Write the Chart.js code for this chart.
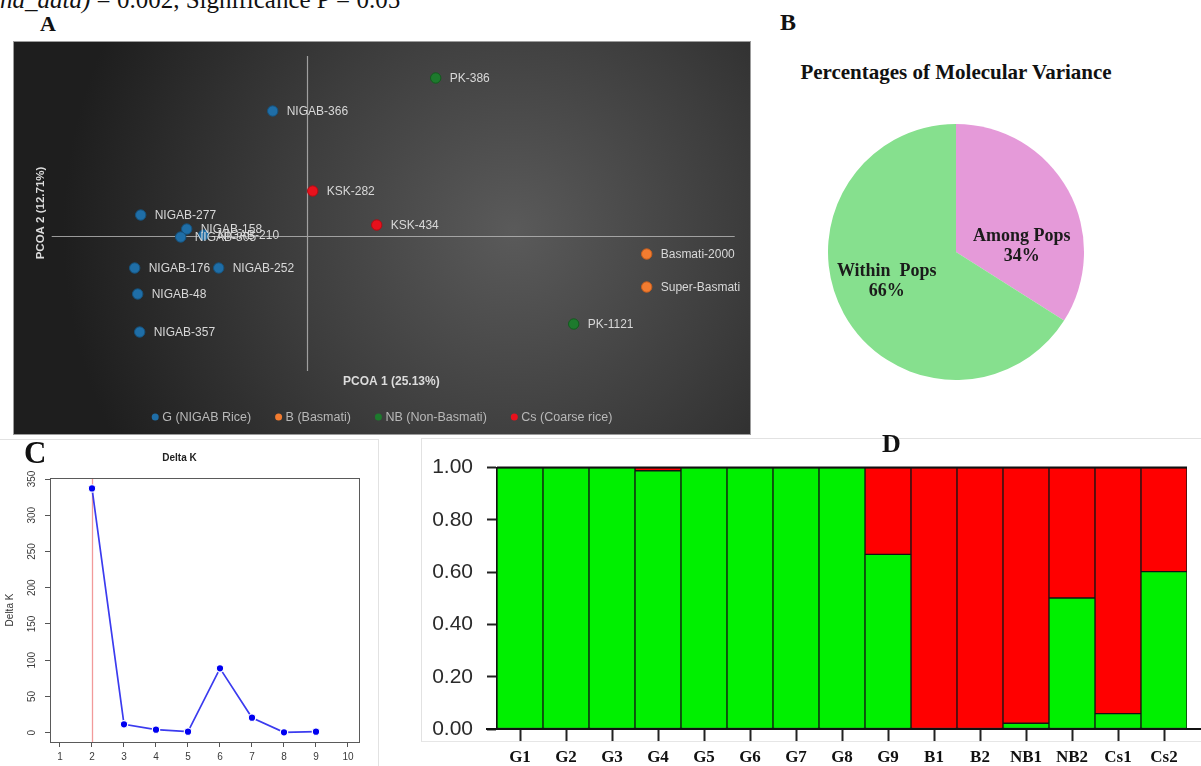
<!DOCTYPE html>
<html>
<head>
<meta charset="utf-8">
<title>Genetic structure of rice accessions</title>
<script src="https://cdn.jsdelivr.net/npm/chart.js@4.4.1/dist/chart.umd.min.js"></script>
<style>
  html, body { margin: 0; padding: 0; background: #fff; }
  body { width: 1201px; height: 766px; position: relative; overflow: hidden;
         font-family: "Liberation Serif", "Times New Roman", serif; }
  .abs { position: absolute; }
  .letter { font-family: "Liberation Serif", "Times New Roman", serif; font-weight: bold;
            color: #111; line-height: 1; z-index: 5; }
  #note { left: 0; top: -13px; font-size: 25px; line-height: 1; white-space: nowrap; color: #111; }
  #letterA { left: 40px; top: 13px; font-size: 22px; }
  #letterB { left: 780px; top: 10px; font-size: 24px; }
  #letterC { left: 24px; top: 437px; font-size: 31px; }
  #letterD { left: 882px; top: 431px; font-size: 26px; }
  #titleB { left: 756px; top: 62px; width: 400px; text-align: center; font-size: 21px;
            font-weight: bold; line-height: 1; color: #111; }
  #wrapA { left: 13px; top: 41px; width: 738px; height: 394px; }
  #wrapB { left: 828px; top: 124px; width: 256px; height: 256px; }
  #frameC { left: -2px; top: 439px; width: 380px; height: 340px; border-top: 1px solid #e2e2e2; border-right: 1px solid #e2e2e2; }
  #wrapC { left: 0; top: 441px; width: 378px; height: 325px; }
  #frameD { left: 421px; top: 438px; width: 800px; height: 302px; border-top: 1px solid #e2e2e2; border-left: 1px solid #e2e2e2; border-bottom: 1px solid #e6e6e6; }
  #wrapD { left: 420px; top: 441px; width: 781px; height: 325px; }
</style>
</head>
<body>
<div id="note" class="abs"><i>nd_data)</i> = 0.002, Significance P = 0.05</div>
<div id="letterA" class="abs letter">A</div>
<div id="letterB" class="abs letter">B</div>
<div id="letterC" class="abs letter">C</div>
<div id="letterD" class="abs letter">D</div>
<div id="titleB" class="abs">Percentages of Molecular Variance</div>

<div id="wrapA" class="abs"><canvas id="pcoa"></canvas></div>
<div id="wrapB" class="abs"><canvas id="amova"></canvas></div>
<div id="frameC" class="abs"></div>
<div id="wrapC" class="abs"><canvas id="deltak"></canvas></div>
<div id="frameD" class="abs"></div>
<div id="wrapD" class="abs"><canvas id="structure"></canvas></div>

<script>
// ---------- A: principal coordinates (PCoA scores) ----------
const groupNames  = ['G (NIGAB Rice)', 'B (Basmati)', 'NB (Non-Basmati)', 'Cs (Coarse rice)'];
const groupColors = ['#1f6ea7', '#f27c30', '#1d7a2d', '#e8111c'];
const groupEdges  = ['#15527d', '#c85e1c', '#135a1e', '#b00c14'];

const nigabIds = ['NIGAB-366', 'NIGAB-277', 'NIGAB-158', 'NIGAB-305', 'NIGAB-210', 'NIGAB-176', 'NIGAB-252', 'NIGAB-48', 'NIGAB-357'];
const nigabPC1 = [-0.34, -1.66, -1.20, -1.26, -1.03, -1.72, -0.88, -1.69, -1.67];
const nigabPC2 = [ 1.25,  0.21,  0.07, -0.01,  0.01, -0.32, -0.32, -0.58, -0.96];

const basmatiIds = ['Basmati-2000', 'Super-Basmati'];
const basmatiPC1 = [3.40, 3.40];
const basmatiPC2 = [-0.18, -0.51];

const nonBasmatiIds = ['PK-386', 'PK-1121'];
const nonBasmatiPC1 = [1.29, 2.67];
const nonBasmatiPC2 = [1.58, -0.88];

const coarseIds = ['KSK-282', 'KSK-434'];
const coarsePC1 = [0.06, 0.70];
const coarsePC2 = [0.45, 0.11];

const pcoaAxisTitles = ['PCOA 1 (25.13%)', 'PCOA 2 (12.71%)'];

// ---------- B: AMOVA ----------
const amovaSources = ['Among Pops', 'Within  Pops'];
const amovaPercent = [34, 66];

// ---------- C: Evanno delta K ----------
const kValues = [2, 3, 4, 5, 6, 7, 8, 9];
const deltaK  = [337, 11.6, 4.2, 1.4, 88.8, 20.7, 0.5, 1.4];
const bestK = 2;
const kTicks = [1, 2, 3, 4, 5, 6, 7, 8, 9, 10];
const deltaKTicks = [0, 50, 100, 150, 200, 250, 300, 350];

// ---------- D: STRUCTURE membership (K = 2) ----------
const structureLabels = ['G1', 'G2', 'G3', 'G4', 'G5', 'G6', 'G7', 'G8', 'G9', 'B1', 'B2', 'NB1', 'NB2', 'Cs1', 'Cs2'];
const clusterGreen = [1, 1, 1, 0.988, 1, 1, 1, 1, 0.668, 0, 0, 0.022, 0.501, 0.059, 0.602];
const clusterRed   = [0, 0, 0, 0.012, 0, 0, 0, 0, 0.332, 1, 1, 0.978, 0.499, 0.941, 0.398];
const membershipTicks = [0, 0.2, 0.4, 0.6, 0.8, 1.0];

Chart.defaults.font.family = '"Liberation Sans", Arial, Helvetica, sans-serif';
Chart.defaults.animation = false;
Chart.defaults.responsive = true;
Chart.defaults.maintainAspectRatio = false;
Chart.defaults.devicePixelRatio = 1;
Chart.defaults.plugins.legend.display = false;
Chart.defaults.plugins.tooltip.enabled = false;

// ===== Panel A =====
const pcoaGroups = [
  { ids: nigabIds, pc1: nigabPC1, pc2: nigabPC2 },
  { ids: basmatiIds, pc1: basmatiPC1, pc2: basmatiPC2 },
  { ids: nonBasmatiIds, pc1: nonBasmatiPC1, pc2: nonBasmatiPC2 },
  { ids: coarseIds, pc1: coarsePC1, pc2: coarsePC2 }
];

// reference cross through the origin, in score units
const crossSpanX = [-2.55, 4.28];
const crossSpanY = [-1.35, 1.80];

const pcoaBackdrop = {
  id: 'pcoaBackdrop',
  beforeDraw(chart) {
    const { ctx, width, height } = chart;
    const xs = chart.scales.x, ys = chart.scales.y;
    ctx.save();
    const g = ctx.createRadialGradient(500, 190, 0, 500, 190, 450);
    g.addColorStop(0, '#5a5a5a');
    g.addColorStop(0.5, '#3d3d3d');
    g.addColorStop(1, '#1e1e1e');
    ctx.fillStyle = g;
    ctx.fillRect(0, 0, width, height);
    ctx.strokeStyle = '#9c9c9c';
    ctx.lineWidth = 1;
    ctx.strokeRect(0.5, 0.5, width - 1, height - 1);
    ctx.strokeStyle = 'rgba(185,185,185,0.8)';
    ctx.lineWidth = 1.2;
    ctx.beginPath();
    const x0 = Math.round(xs.getPixelForValue(0)) + 0.5;
    const y0 = Math.round(ys.getPixelForValue(0)) + 0.5;
    ctx.moveTo(x0, ys.getPixelForValue(crossSpanY[1]));
    ctx.lineTo(x0, ys.getPixelForValue(crossSpanY[0]));
    ctx.moveTo(xs.getPixelForValue(crossSpanX[0]), y0);
    ctx.lineTo(xs.getPixelForValue(crossSpanX[1]), y0);
    ctx.stroke();
    ctx.restore();
  }
};

const pcoaText = {
  id: 'pcoaText',
  afterDatasetsDraw(chart) {
    const { ctx } = chart;
    ctx.save();
    ctx.font = '12px "Liberation Sans", Arial, sans-serif';
    ctx.fillStyle = '#d8d8d8';
    ctx.textBaseline = 'middle';
    ctx.textAlign = 'left';
    chart.data.datasets.forEach((ds, di) => {
      chart.getDatasetMeta(di).data.forEach((pt, i) => {
        ctx.fillText(ds.names[i], pt.x + 14, pt.y + 0.5);
      });
    });
    ctx.restore();
  },
  afterDraw(chart) {
    const { ctx, width, height } = chart;
    ctx.save();
    // axis titles
    ctx.fillStyle = '#dcdcdc';
    ctx.font = 'bold 12px "Liberation Sans", Arial, sans-serif';
    ctx.textAlign = 'left';
    ctx.textBaseline = 'middle';
    ctx.fillText(pcoaAxisTitles[0], 330, 341);
    ctx.translate(28, 172);
    ctx.rotate(-Math.PI / 2);
    ctx.textAlign = 'center';
    ctx.font = 'bold 11.5px "Liberation Sans", Arial, sans-serif';
    ctx.fillText(pcoaAxisTitles[1], 0, 0);
    ctx.restore();

    // group key
    ctx.save();
    ctx.font = '12.5px "Liberation Sans", Arial, sans-serif';
    ctx.textBaseline = 'middle';
    const dotR = 3.5, gapText = 7, gapItem = 24;
    const items = chart.data.datasets.map(ds => ({
      text: ds.label, color: ds.backgroundColor, w: ctx.measureText(ds.label).width
    }));
    const total = items.reduce((s, it) => s + dotR + gapText + it.w, 0) + gapItem * (items.length - 1);
    let x = (width - total) / 2;
    const y = height - 18;
    items.forEach(it => {
      ctx.fillStyle = it.color;
      ctx.beginPath();
      ctx.arc(x + dotR, y, dotR, 0, Math.PI * 2);
      ctx.fill();
      ctx.fillStyle = '#b8b8b8';
      ctx.fillText(it.text, x + dotR + gapText, y + 0.5);
      x += dotR + gapText + it.w + gapItem;
    });
    ctx.restore();
  }
};

new Chart(document.getElementById('pcoa'), {
  type: 'scatter',
  data: {
    datasets: pcoaGroups.map((grp, gi) => ({
      label: groupNames[gi],
      names: grp.ids,
      data: grp.pc1.map((v, i) => ({ x: v, y: grp.pc2[i] })),
      backgroundColor: groupColors[gi],
      borderColor: groupEdges[gi],
      borderWidth: 1,
      pointRadius: 5.2
    }))
  },
  options: {
    layout: { padding: 0, autoPadding: false },
    scales: {
      x: { type: 'linear', display: false, min: -2.937, max: 4.443 },
      y: { type: 'linear', display: false, min: -1.99, max: 1.95 }
    }
  },
  plugins: [pcoaBackdrop, pcoaText]
});

// ===== Panel B =====
// label anchors as fractions of the pie radius from its centre
const sliceTextAt = [[0.513, -0.045], [-0.541, 0.233]];

const sliceText = {
  id: 'sliceText',
  afterDatasetsDraw(chart) {
    const { ctx } = chart;
    const arcs = chart.getDatasetMeta(0).data;
    ctx.save();
    ctx.font = 'bold 18px "Liberation Serif", "Times New Roman", serif';
    ctx.fillStyle = '#1b1b1b';
    ctx.textAlign = 'center';
    ctx.textBaseline = 'middle';
    arcs.forEach((arc, i) => {
      const r = arc.outerRadius;
      const x = arc.x + sliceTextAt[i][0] * r;
      const y = arc.y + sliceTextAt[i][1] * r;
      ctx.fillText(chart.data.labels[i], x, y - 10);
      ctx.fillText(chart.data.datasets[0].data[i] + '%', x, y + 10);
    });
    ctx.restore();
  }
};

new Chart(document.getElementById('amova'), {
  type: 'pie',
  data: {
    labels: amovaSources,
    datasets: [{ data: amovaPercent, backgroundColor: ['#e59ad9', '#86e08e'], borderWidth: 0 }]
  },
  options: { layout: { padding: 0 } },
  plugins: [sliceText]
});

// ===== Panel C =====
const deltaKBox = {
  id: 'deltaKBox',
  beforeDatasetsDraw(chart) {
    const { ctx, chartArea: a } = chart;
    const x = Math.round(chart.scales.x.getPixelForValue(bestK)) + 0.5;
    ctx.save();
    ctx.strokeStyle = '#f29a9a';
    ctx.lineWidth = 1.3;
    ctx.beginPath();
    ctx.moveTo(x, a.top);
    ctx.lineTo(x, a.bottom);
    ctx.stroke();
    ctx.restore();
  },
  afterDraw(chart) {
    const { ctx, chartArea: a } = chart;
    ctx.save();
    ctx.strokeStyle = '#5a5a5a';
    ctx.lineWidth = 1;
    ctx.strokeRect(Math.round(a.left) + 0.5, Math.round(a.top) + 0.5,
                   Math.round(a.right - a.left), Math.round(a.bottom - a.top));
    ctx.restore();
  }
};

new Chart(document.getElementById('deltak'), {
  type: 'line',
  data: {
    datasets: [{
      data: kValues.map((k, i) => ({ x: k, y: deltaK[i] })),
      borderColor: '#3b3bef',
      borderWidth: 1.7,
      pointRadius: 3.7,
      pointBackgroundColor: '#0000f0',
      pointBorderColor: '#ffffff',
      pointBorderWidth: 1.2,
      tension: 0
    }]
  },
  options: {
    layout: { padding: { top: 0, right: 19, left: 0, bottom: 0 }, autoPadding: false },
    plugins: {
      title: {
        display: true, text: 'Delta K', color: '#222',
        font: { family: '"Liberation Sans", Arial, sans-serif', size: 10, weight: 'bold' },
        padding: { top: 11, bottom: 14 }
      }
    },
    scales: {
      x: {
        type: 'linear', min: 0.6875, max: 10.344,
        afterBuildTicks(s) { s.ticks = kTicks.map(v => ({ value: v })); },
        ticks: { font: { size: 10 }, color: '#3a3a3a', padding: 4, maxRotation: 0, autoSkip: false },
        grid: { drawOnChartArea: false, tickLength: 5, tickColor: '#555' },
        border: { color: '#5a5a5a' },
        afterFit(s) { s.height = 24; }
      },
      y: {
        type: 'linear', min: -12.8, max: 351.4,
        afterBuildTicks(s) { s.ticks = deltaKTicks.map(v => ({ value: v })); },
        ticks: { font: { size: 10 }, color: '#3a3a3a', padding: 4, minRotation: 90, maxRotation: 90,
                 crossAlign: 'center', autoSkip: false },
        grid: { drawOnChartArea: false, tickLength: 5, tickColor: '#555' },
        border: { color: '#5a5a5a' },
        title: { display: true, text: 'Delta K', color: '#333', font: { size: 10 }, padding: { top: 4, bottom: 4 } },
        afterFit(s) { s.width = 50; }
      }
    }
  },
  plugins: [deltaKBox]
});

// ===== Panel D =====
const structureFrame = {
  id: 'structureFrame',
  afterDraw(chart) {
    const { ctx, chartArea: a, width } = chart;
    ctx.save();
    ctx.strokeStyle = '#111';
    ctx.lineWidth = 2;
    ctx.beginPath();
    ctx.moveTo(a.left, a.top);
    ctx.lineTo(a.right, a.top);
    ctx.moveTo(a.left - 11, a.bottom);
    ctx.lineTo(width, a.bottom);
    ctx.stroke();
    ctx.restore();
  }
};

const barStyle = { borderColor: '#141414', borderWidth: 1, borderSkipped: false,
                   barPercentage: 1, categoryPercentage: 1 };

new Chart(document.getElementById('structure'), {
  type: 'bar',
  data: {
    labels: structureLabels,
    datasets: [
      Object.assign({ label: 'Cluster 1', data: clusterGreen, backgroundColor: '#00f000' }, barStyle),
      Object.assign({ label: 'Cluster 2', data: clusterRed, backgroundColor: '#ff0000' }, barStyle)
    ]
  },
  options: {
    layout: { padding: { top: 24, right: 14, left: 0, bottom: 0 } },
    scales: {
      x: {
        stacked: true, offset: true,
        grid: { offset: false, drawOnChartArea: false, tickLength: 12, tickColor: '#222', tickWidth: 2 },
        border: { display: true, color: '#111', width: 2 },
        ticks: { font: { family: '"Liberation Serif", "Times New Roman", serif', weight: 'bold', size: 17 },
                 color: '#111', padding: 6, maxRotation: 0, autoSkip: false },
        afterFit(s) { s.height = 37; }
      },
      y: {
        stacked: true, min: 0, max: 1,
        afterBuildTicks(s) { s.ticks = membershipTicks.map(v => ({ value: v })); },
        ticks: { callback: v => Number(v).toFixed(2), font: { size: 21 }, color: '#2a2a2a', padding: 14 },
        grid: { drawOnChartArea: false, tickLength: 10, tickColor: '#222', tickWidth: 2 },
        border: { color: '#111', width: 2 },
        afterFit(s) { s.width = 77; }
      }
    }
  },
  plugins: [structureFrame]
});
</script>
</body>
</html>
